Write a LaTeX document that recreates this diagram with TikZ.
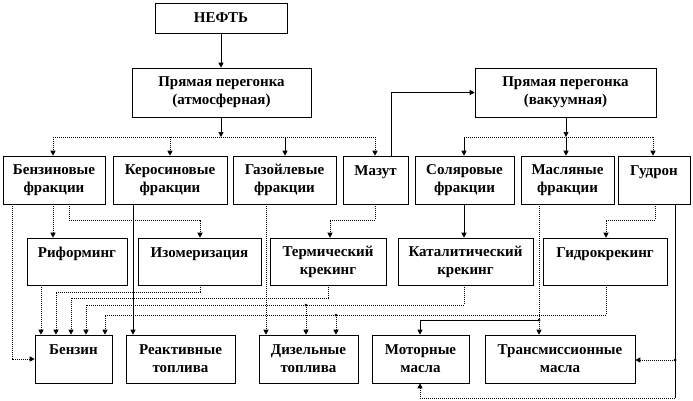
\documentclass[tikz,border=0pt]{standalone}
\usepackage{fontspec}
\setmainfont{Liberation Serif}
\usetikzlibrary{arrows.meta,shadows}
\begin{document}
\begin{tikzpicture}[x=1pt,y=-1pt,
  box/.style={draw=black,line width=0.6pt,fill=white,align=center,inner sep=0pt,
    font=\fontsize{15}{18}\selectfont\bfseries,
    drop shadow={shadow xshift=1.2pt,shadow yshift=-1.2pt,fill=gray!60,opacity=1}},
  conn/.style={line width=0.7pt,black},
  dot/.style={dash pattern=on 1pt off 1pt},
  arr/.style={-{Triangle[length=5pt,width=5pt]}},
  jdot/.style={circle,fill=black,inner sep=0pt,minimum size=3pt}]
\useasboundingbox (0,0) rectangle (693,400);
% boxes
\node[box,minimum width=132,minimum height=30] (neft) at (221,18) {НЕФТЬ};
\node[box,minimum width=179,minimum height=49] (atm) at (221.5,92.5) {Прямая перегонка\\(атмосферная)};
\node[box,minimum width=181,minimum height=49] (vac) at (565.5,92.5) {Прямая перегонка\\(вакуумная)};
\node[box,minimum width=102,minimum height=48] (benzfr) at (54,180) {Бензиновые\\фракции};
\node[box,minimum width=114,minimum height=48] (kerfr) at (170,180) {Керосиновые\\фракции};
\node[box,minimum width=103,minimum height=48] (gasfr) at (284.5,180) {Газойлевые\\фракции};
\node[box,minimum width=65,minimum height=48] (mazut) at (375.5,180) {Мазут\\\mbox{}};
\node[box,minimum width=99,minimum height=48] (solfr) at (464.5,180) {Соляровые\\фракции};
\node[box,minimum width=93,minimum height=48] (maslfr) at (567.5,180) {Масляные\\фракции};
\node[box,minimum width=72,minimum height=48] (gudron) at (654,180) {Гудрон\\\mbox{}};
\node[box,minimum width=100,minimum height=47] (reform) at (77,261.5) {Риформинг\\\mbox{}};
\node[box,minimum width=123,minimum height=47] (izom) at (199.5,261.5) {Изомеризация\\\mbox{}};
\node[box,minimum width=116,minimum height=47] (term) at (328,261.5) {Термический\\крекинг};
\node[box,minimum width=135,minimum height=47] (katal) at (465.5,261.5) {Каталитический\\крекинг};
\node[box,minimum width=124,minimum height=47] (gidro) at (605,261.5) {Гидрокрекинг\\\mbox{}};
\node[box,minimum width=77,minimum height=48] (benzin) at (73.5,359) {Бензин\\\mbox{}};
\node[box,minimum width=109,minimum height=48] (reakt) at (180.5,359) {Реактивные\\топлива};
\node[box,minimum width=99,minimum height=48] (dizel) at (308.5,359) {Дизельные\\топлива};
\node[box,minimum width=97,minimum height=48] (motor) at (420.5,359) {Моторные\\масла};
\node[box,minimum width=150,minimum height=48] (trans) at (560,359) {Трансмиссионные\\масла};
% helper coordinates
\coordinate (bA) at (221,137);
\coordinate (bA1) at (53,137);
\coordinate (bA2) at (170,137);
\coordinate (bA3) at (285,137);
\coordinate (bA4) at (375,137);
\coordinate (bV) at (566,137);
\coordinate (bV1) at (464,137);
\coordinate (bV2) at (566,137);
\coordinate (bV3) at (653,137);
\coordinate (mz) at (391,92.5);
\coordinate (k1) at (69,220);
\coordinate (k2) at (200,220);
\coordinate (k3) at (12,359);
\coordinate (k4) at (133,0);
\coordinate (k5) at (266,0);
\coordinate (k6) at (375,220);
\coordinate (k7) at (330,220);
\coordinate (k8) at (464,0);
\coordinate (k9) at (655,220);
\coordinate (k10) at (606,220);
\coordinate (m1) at (539,320);
\coordinate (m2) at (420,320);
\coordinate (g1) at (675,360);
\coordinate (g2) at (675,398);
\coordinate (g3) at (420,398);
\coordinate (r1) at (41,0);
\coordinate (i1) at (200,292);
\coordinate (i2) at (56,292);
\coordinate (t1) at (328,298);
\coordinate (t2) at (71,298);
\coordinate (c1) at (464,305);
\coordinate (c2) at (86,305);
\coordinate (c3) at (306,305);
\coordinate (h1) at (606,315);
\coordinate (h2) at (105,315);
\coordinate (h3) at (336,315);
% connectors top
\draw[conn,arr] (neft.south) -- (neft.south |- atm.north);
\draw[conn,arr] (atm.south -| bA) -- (bA);
\draw[conn,dot] (bA1) -- (bA4);
\draw[conn,dot,arr] (bA1) -- (bA1 |- benzfr.north);
\draw[conn,dot,arr] (bA2) -- (bA2 |- kerfr.north);
\draw[conn,arr] (bA3) -- (bA3 |- gasfr.north);
\draw[conn,dot,arr] (bA4) -- (bA4 |- mazut.north);
\draw[conn,arr] (mazut.north -| mz) -- (mz) -- (vac.west);
\draw[conn,arr] (vac.south -| bV) -- (bV);
\draw[conn,dot] (bV1) -- (bV3);
\draw[conn,arr] (bV1) -- (bV1 |- solfr.north);
\draw[conn,arr] (bV2) -- (bV2 |- maslfr.north);
\draw[conn,dot,arr] (bV3) -- (bV3 |- gudron.north);
% row1 -> row2/row3
\draw[conn,dot,arr] (benzfr.south -| bA1) -- (reform.north -| bA1);
\draw[conn,dot,arr] (benzfr.south -| k1) -- (k1) -- (k2) -- (izom.north -| k2);
\draw[conn,dot,arr] (benzfr.south -| k3) -- (k3) -- (benzin.west);
\draw[conn,arr] (kerfr.south -| k4) -- (reakt.north -| k4);
\draw[conn,dot,arr] (gasfr.south -| k5) -- (dizel.north -| k5);
\draw[conn,dot,arr] (mazut.south -| k6) -- (k6) -- (k7) -- (term.north -| k7);
\draw[conn,arr] (solfr.south -| k8) -- (katal.north -| k8);
\draw[conn,dot,arr] (gudron.south -| k9) -- (k9) -- (k10) -- (gidro.north -| k10);
\draw[conn,dot,arr] (maslfr.south -| m1) -- (trans.north -| m1);
\draw[conn,arr] (m1) -- (m2) -- (motor.north -| m2);
\draw[conn] (gudron.south -| g1) -- (g2);
\draw[conn,dot,arr] (g1) -- (trans.east |- g1);
\draw[conn,dot,arr] (g2) -- (g3) -- (motor.south -| g3);
% row2 -> row3
\draw[conn,dot,arr] (reform.south -| r1) -- (benzin.north -| r1);
\draw[conn,dot,arr] (izom.south -| i1) -- (i1) -- (i2) -- (benzin.north -| i2);
\draw[conn,dot,arr] (term.south -| t1) -- (t1) -- (t2) -- (benzin.north -| t2);
\draw[conn,dot,arr] (katal.south -| c1) -- (c1) -- (c2) -- (benzin.north -| c2);
\draw[conn,dot,arr] (c3) -- (dizel.north -| c3);
\draw[conn,dot,arr] (gidro.south -| h1) -- (h1) -- (h2) -- (benzin.north -| h2);
\draw[conn,dot,arr] (h3) -- (dizel.north -| h3);
% junction dots
\node[jdot] (d1) at (c3) {};
\node[jdot] (d2) at (h3) {};
\node[jdot] (d3) at (m1) {};
\node[jdot] (d4) at (g1) {};
\end{tikzpicture}
\end{document}
